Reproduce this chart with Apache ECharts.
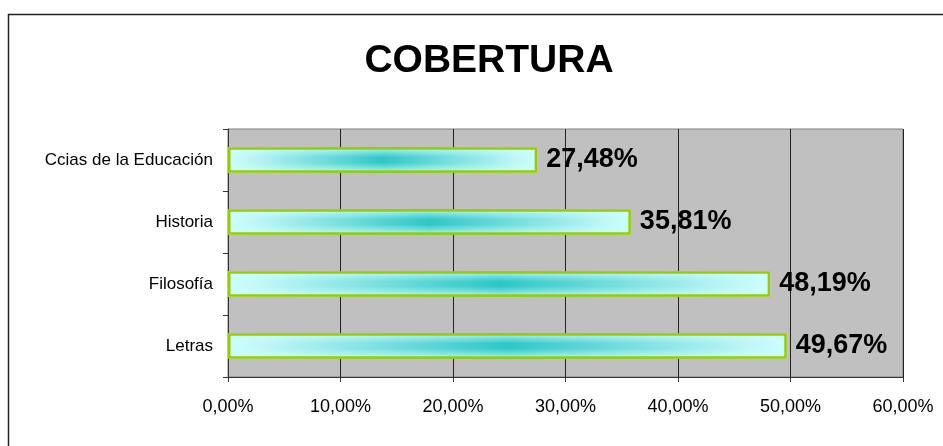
<!DOCTYPE html>
<html>
<head>
<meta charset="utf-8">
<script src="https://cdn.jsdelivr.net/npm/echarts@6/dist/echarts.min.js"></script>
<style>
html, body { margin: 0; padding: 0; background: #fff; }
#chart { width: 943px; height: 446px; }
</style>
</head>
<body>
<div id="chart"></div>
<script>
// categorias de abajo hacia arriba (eje de categorías de ECharts)
const categories = ['Letras', 'Filosofía', 'Historia', 'Ccias de la Educación']
const cobertura = [49.67, 48.19, 35.81, 27.48] // porcentaje
const xTicks = [0, 10, 20, 30, 40, 50, 60]

const fmt = v => v.toFixed(2).replace('.', ',') + '%'
const font = '"Liberation Sans", Arial, sans-serif'

const chart = echarts.init(document.getElementById('chart'))

const option = {
    animation: false,
    textStyle: { fontFamily: font },
    title: {
        text: 'COBERTURA',
        left: 484,
        top: 37,
        textAlign: 'center',
        textStyle: { fontSize: 39, fontWeight: 'bold', color: '#000', fontFamily: font }
    },
    graphic: [{
        type: 'rect',
        shape: { x: 8.5, y: 14.5, width: 1200, height: 1200 },
        style: { fill: 'none', stroke: '#222', lineWidth: 1.5 },
        silent: true
    }],
    grid: {
        left: 228, right: 40, top: 129, bottom: 69,
        show: true,
        backgroundColor: '#c0c0c0',
        borderColor: '#808080',
        borderWidth: 1
    },
    xAxis: {
        type: 'value',
        min: xTicks[0],
        max: xTicks[xTicks.length - 1],
        interval: 10,
        axisLine: { show: true, lineStyle: { color: '#333' } },
        axisTick: { show: true, length: 5, lineStyle: { color: '#333' } },
        axisLabel: { formatter: fmt, fontSize: 18, color: '#000', margin: 21 },
        splitLine: { show: true, lineStyle: { color: '#222', width: 1 } }
    },
    yAxis: {
        type: 'category',
        data: categories,
        axisLine: { show: true, lineStyle: { color: '#333' } },
        axisTick: { show: true, length: 5, lineStyle: { color: '#333' } },
        axisLabel: { fontSize: 17, color: '#000', margin: 15 }
    },
    series: [
        {
            // capa de abajo: degradado horizontal
            type: 'bar',
            data: cobertura,
            barWidth: '41%',
            silent: true,
            itemStyle: {
                color: new echarts.graphic.LinearGradient(0, 0, 1, 0, [
                    { offset: 0, color: '#ccffff' },
                    { offset: 0.06, color: '#c2f7f7' },
                    { offset: 0.5, color: '#30c6c6' },
                    { offset: 0.94, color: '#c2f7f7' },
                    { offset: 1, color: '#ccffff' }
                ])
            }
        },
        {
            // capa de arriba: degradado vertical + borde verde
            type: 'bar',
            data: cobertura,
            barWidth: '41%',
            barGap: '-100%',
            itemStyle: {
                color: new echarts.graphic.LinearGradient(0, 0, 0, 1, [
                    { offset: 0, color: 'rgba(204,255,255,1)' },
                    { offset: 0.15, color: 'rgba(204,255,255,0.5)' },
                    { offset: 0.4, color: 'rgba(204,255,255,0)' },
                    { offset: 0.6, color: 'rgba(204,255,255,0)' },
                    { offset: 0.85, color: 'rgba(204,255,255,0.5)' },
                    { offset: 1, color: 'rgba(204,255,255,1)' }
                ]),
                borderColor: '#99cc00',
                borderWidth: 2.5
            },
            label: {
                show: true,
                position: 'right',
                distance: 9,
                formatter: p => fmt(p.value),
                fontSize: 27,
                fontWeight: 'bold',
                color: '#000',
                fontFamily: font
            }
        }
    ]
}

chart.setOption(option)
</script>
</body>
</html>
